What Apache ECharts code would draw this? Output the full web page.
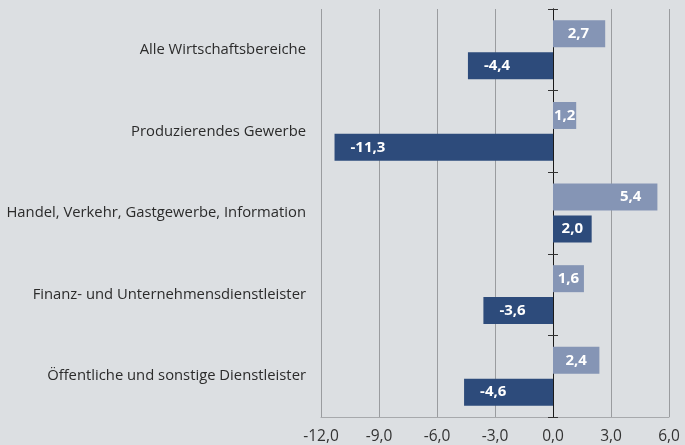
<!DOCTYPE html>
<html>
<head>
<meta charset="utf-8">
<script src="https://cdn.jsdelivr.net/npm/echarts@6/dist/echarts.min.js"></script>
<style>
  html, body { margin: 0; padding: 0; background: #dcdfe2; }
  #chart { width: 685px; height: 445px; }
</style>
</head>
<body>
<div id="chart"></div>
<script>
// Sectors, top to bottom
const categories = [
  'Alle Wirtschaftsbereiche',
  'Produzierendes Gewerbe',
  'Handel, Verkehr, Gastgewerbe, Information',
  'Finanz- und Unternehmensdienstleister',
  'Öffentliche und sonstige Dienstleister'
];
// Upper (light) bar in each group
const lightValues = [2.7, 1.2, 5.4, 1.6, 2.4];
// Lower (dark) bar in each group
const darkValues = [-4.4, -11.3, 2.0, -3.6, -4.6];
// Value axis range and step
const axisMin = -12;
const axisMax = 6;
const axisStep = 3;

const FONT = "'Open Sans', 'DejaVu Sans', sans-serif";
const fmt = v => Number(v).toFixed(1).replace('.', ',');

// Label placement: negative bars read from the left end, wide positive bars
// from the right end, narrow ones centred.
function labelFor(v) {
  const base = {
    show: true, color: '#ffffff', fontWeight: 'bold', fontSize: 15,
    fontFamily: FONT, formatter: p => fmt(p.value)
  };
  if (v < 0) return Object.assign(base, { position: 'insideLeft', distance: 16 });
  if (v >= 2.6) return Object.assign(base, { position: 'insideRight', distance: 16 });
  return Object.assign(base, { position: 'inside' });
}
const toItems = arr => arr.map(v => ({ value: v, label: labelFor(v) }));

const chart = echarts.init(document.getElementById('chart'), null, { renderer: 'canvas' });

const catAxisBase = {
  type: 'category',
  data: categories,
  inverse: true,
  axisLabel: { show: false },
  splitLine: { show: false }
};

chart.setOption({
  backgroundColor: '#dcdfe2',
  animation: false,
  grid: { left: 321, right: 16, top: 9, bottom: 27, containLabel: false },
  xAxis: [
    {
      type: 'value',
      min: axisMin, max: axisMax, interval: axisStep,
      axisLine: { show: true, lineStyle: { color: '#a7a9ac', width: 1 } },
      axisTick: { show: false },
      splitLine: { show: true, lineStyle: { color: '#9a9c9f', width: 1 } },
      axisLabel: {
        formatter: fmt, color: '#333333', fontSize: 15.5, fontFamily: FONT, margin: 12
      }
    },
    {
      // companion axis so the second zero line can anchor on it
      type: 'value', min: axisMin, max: axisMax, interval: axisStep,
      show: false, splitLine: { show: false }
    }
  ],
  yAxis: [
    Object.assign({}, catAxisBase, {
      position: 'left',
      axisLine: { show: true, onZero: true, onZeroAxisIndex: 0, lineStyle: { color: '#1a1a1a', width: 1 } },
      axisTick: { show: true, length: 5, lineStyle: { color: '#333333' } }
    }),
    Object.assign({}, catAxisBase, {
      position: 'right',
      axisLine: { show: true, onZero: true, onZeroAxisIndex: 1, lineStyle: { color: '#1a1a1a', width: 1 } },
      axisTick: { show: true, length: 5, lineStyle: { color: '#333333' } }
    }),
    Object.assign({}, catAxisBase, {
      position: 'left',
      axisLine: { show: false, onZero: false },
      axisTick: { show: false },
      axisLabel: { show: true, color: '#2b2b2b', fontSize: 14.8, fontFamily: FONT, margin: 15 }
    })
  ],
  series: [
    {
      type: 'bar', xAxisIndex: 0, yAxisIndex: 0,
      data: toItems(lightValues),
      barWidth: 27, barGap: '18%',
      itemStyle: { color: '#8595b5' }
    },
    {
      type: 'bar', xAxisIndex: 0, yAxisIndex: 0,
      data: toItems(darkValues),
      barWidth: 27, barGap: '18%',
      itemStyle: { color: '#2d4b7b' }
    }
  ]
});
</script>
</body>
</html>
